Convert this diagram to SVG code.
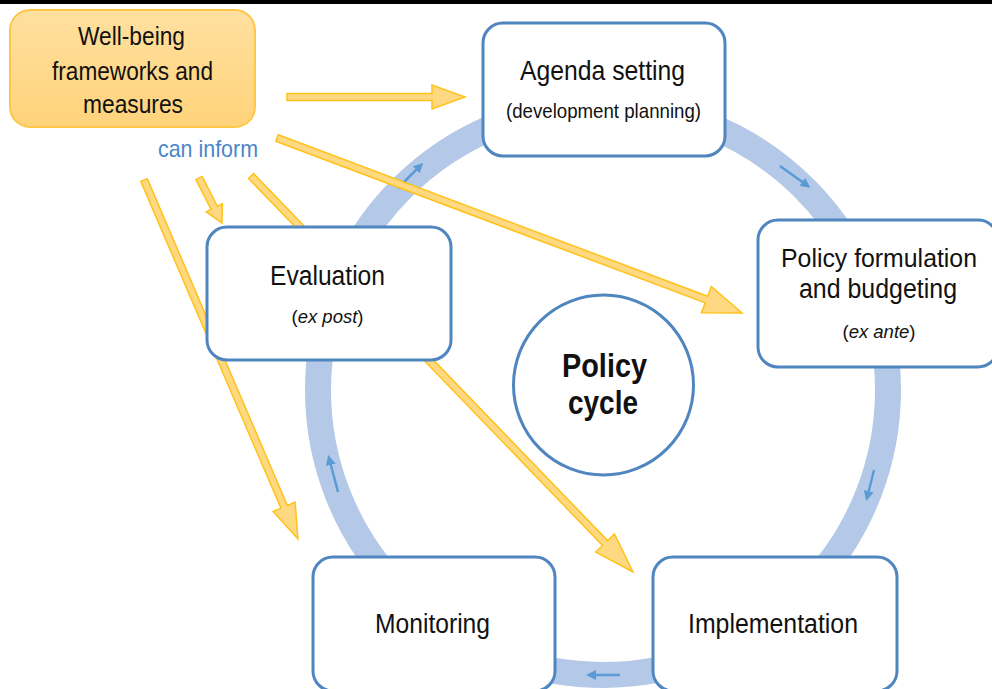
<svg xmlns="http://www.w3.org/2000/svg" width="992" height="689" viewBox="0 0 992 689">
<defs>
<style>
.box{fill:#fff;stroke:#4F86C0;stroke-width:3}
.t{font-family:"Liberation Sans",Arial,sans-serif;fill:#111;text-anchor:middle}
.ya{fill:#FFD882;stroke:#FFC21A;stroke-width:1.5;stroke-linejoin:miter}
.ba{stroke:#5B9BD5;stroke-width:2.5;fill:none;marker-end:url(#bh)}
</style>
<linearGradient id="wg" x1="0" y1="0" x2="0" y2="1">
<stop offset="0" stop-color="#FFE0A0"/>
<stop offset="1" stop-color="#FFD37A"/>
</linearGradient>
<marker id="bh" viewBox="0 0 10 10" refX="7" refY="5" markerWidth="4" markerHeight="4" orient="auto" markerUnits="strokeWidth">
<path d="M0,0 L10,5 L0,10 Z" fill="#5B9BD5"/>
</marker>
</defs>
<rect x="0" y="0" width="992" height="4" fill="#000"/>

<g id="connectors">
<circle cx="603" cy="390" r="285" fill="none" stroke="#B4C8E7" stroke-width="26"/>
<line class="ba" x1="398" y1="188" x2="421" y2="165"/>
<line class="ba" x1="780" y1="166" x2="808" y2="186"/>
<line class="ba" x1="874" y1="470" x2="867" y2="498"/>
<line class="ba" x1="620" y1="675" x2="589" y2="675"/>
<line class="ba" x1="338" y1="492" x2="329" y2="458"/>
<path class="ya" transform="translate(287,97)" d="M0,-3.5 H145 V-12 L178,0 L145,12 V3.5 H0 Z"/>
<path class="ya" transform="translate(277,138) rotate(20.62)" d="M0,-3.5 H458.8 V-14 L496.8,0 L458.8,14 V3.5 H0 Z"/>
<path class="ya" transform="translate(199,178) rotate(62.9)" d="M0,-3.5 H33.5 V-9 L50.5,0 L33.5,9 V3.5 H0 Z"/>
<path class="ya" transform="translate(251,176) rotate(46.03)" d="M0,-3.5 H510 V-13 L550.2,0 L510,13 V3.5 H0 Z"/>
<path class="ya" transform="translate(144,180) rotate(66.79)" d="M0,-3.5 H355.6 V-12 L390.6,0 L355.6,12 V3.5 H0 Z"/>
</g>

<g id="wellbeing">
<rect x="10" y="10" width="245" height="117" rx="20" fill="url(#wg)" stroke="#FFC747" stroke-width="2"/>
<text class="t" font-size="26" x="131.5" y="45" textLength="107" lengthAdjust="spacingAndGlyphs">Well-being</text>
<text class="t" font-size="26" x="132.5" y="80" textLength="161" lengthAdjust="spacingAndGlyphs">frameworks and</text>
<text class="t" font-size="26" x="133" y="113" textLength="100" lengthAdjust="spacingAndGlyphs">measures</text>
</g>

<g id="can-inform">
<text x="158" y="157" font-family="'Liberation Sans',Arial,sans-serif" font-size="24" fill="#4A86C8" textLength="100" lengthAdjust="spacingAndGlyphs">can inform</text>
</g>

<g id="agenda">
<rect class="box" x="483" y="23" width="242" height="133" rx="20"/>
<text class="t" font-size="28" x="602.5" y="80" textLength="165" lengthAdjust="spacingAndGlyphs">Agenda setting</text>
<text class="t" font-size="21" x="603.5" y="118" textLength="195" lengthAdjust="spacingAndGlyphs">(development planning)</text>
</g>

<g id="formulation">
<rect class="box" x="758" y="220" width="240" height="147" rx="20"/>
<text class="t" font-size="26" x="879" y="267" textLength="196" lengthAdjust="spacingAndGlyphs">Policy formulation</text>
<text class="t" font-size="27" x="878" y="298" textLength="158" lengthAdjust="spacingAndGlyphs">and budgeting</text>
<text class="t" font-size="18.5" x="879" y="338">(<tspan font-style="italic">ex ante</tspan>)</text>
</g>

<g id="evaluation">
<rect class="box" x="207" y="227" width="244" height="133" rx="20"/>
<text class="t" font-size="27" x="327.5" y="285" textLength="115" lengthAdjust="spacingAndGlyphs">Evaluation</text>
<text class="t" font-size="18.5" x="327.5" y="323">(<tspan font-style="italic">ex post</tspan>)</text>
</g>

<g id="monitoring">
<rect class="box" x="313" y="557" width="242" height="134" rx="20"/>
<text class="t" font-size="27" x="432.5" y="633" textLength="115" lengthAdjust="spacingAndGlyphs">Monitoring</text>
</g>

<g id="implementation">
<rect class="box" x="653" y="557" width="244" height="134" rx="20"/>
<text class="t" font-size="27" x="773" y="633" textLength="170" lengthAdjust="spacingAndGlyphs">Implementation</text>
</g>

<g id="policy-cycle">
<circle cx="603.5" cy="385" r="90" fill="#fff" stroke="#4F86C0" stroke-width="3"/>
<text class="t" font-size="33" font-weight="bold" x="604.5" y="377" textLength="85" lengthAdjust="spacingAndGlyphs">Policy</text>
<text class="t" font-size="33" font-weight="bold" x="603" y="414" textLength="70" lengthAdjust="spacingAndGlyphs">cycle</text>
</g>
</svg>
